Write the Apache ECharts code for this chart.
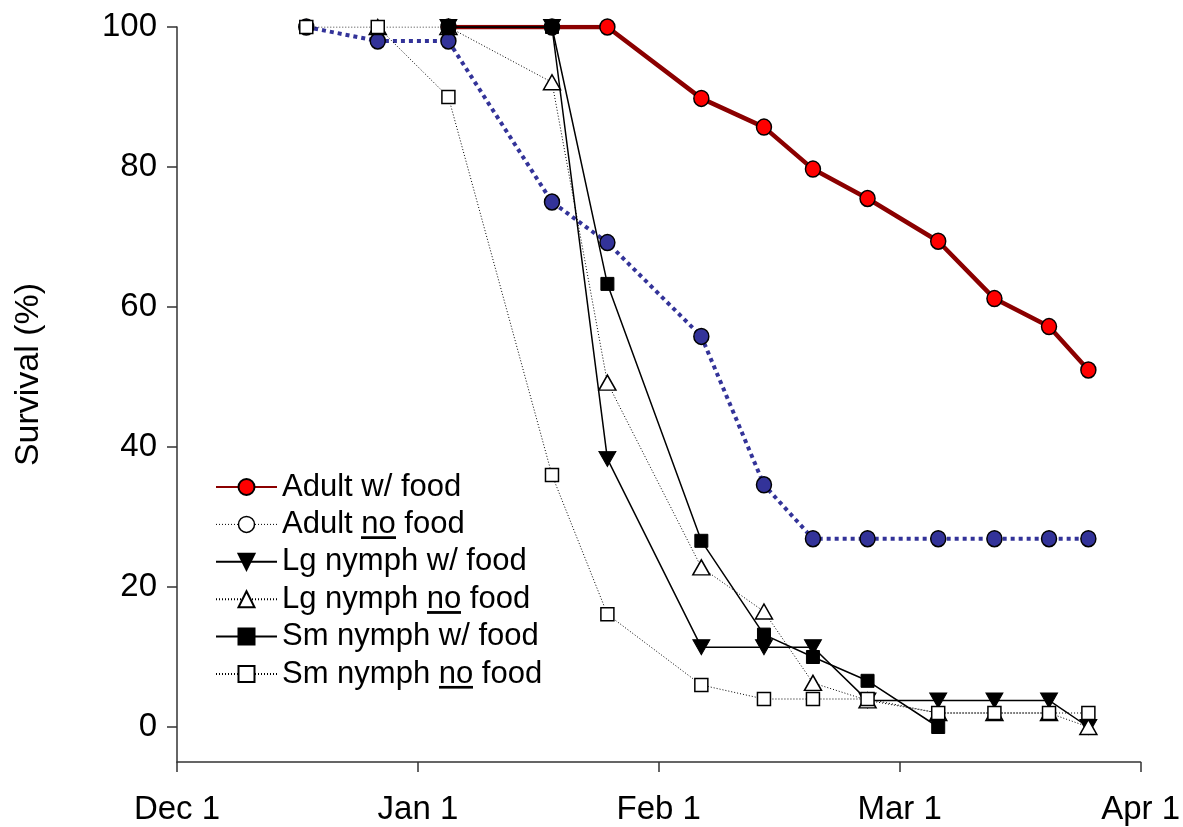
<!DOCTYPE html>
<html><head><meta charset="utf-8">
<script src="https://cdn.jsdelivr.net/npm/echarts@6/dist/echarts.min.js"></script>
<style>html,body{margin:0;padding:0;background:#fff}#c{width:1183px;height:827px}</style>
</head><body><div id="c"></div>
<script>
// x in days since Dec 1 (axis drawn with equal month spacing, 30 units per month)
const sampleDays = [16.1, 25.0, 33.8, 46.7, 53.6, 65.3, 73.1, 79.2, 86.0, 94.8, 101.8, 108.6, 113.5];
const monthLabels = ['Dec 1', 'Jan 1', 'Feb 1', 'Mar 1', 'Apr 1'];
const yTicks = [0, 20, 40, 60, 80, 100];
const seriesNames = ['Adult w/ food', 'Adult no food', 'Lg nymph w/ food', 'Lg nymph no food', 'Sm nymph w/ food', 'Sm nymph no food'];
const adultFood   = [null, null, 100, 100, 100, 89.8, 85.7, 79.7, 75.5, 69.4, 61.2, 57.2, 51.0];
const adultNoFood = [100, 98, 98, 75, 69.2, 55.8, 34.6, 26.9, 26.9, 26.9, 26.9, 26.9, 26.9];
const lgFood      = [null, null, 100, 100, 38.3, 11.4, 11.4, 11.4, 3.8, 3.8, 3.8, 3.8, 0];
const lgNoFood    = [null, 100, 100, 92.1, 49.2, 22.8, 16.5, 6.3, 3.8, 2, 2, 2, 0];
const smFood      = [null, null, 100, 100, 63.3, 26.6, 13.2, 10.0, 6.6, 0, null, null, null];
const smNoFood    = [100, 100, 90, 36, 16.1, 6, 4, 4, 4, 2, 2, 2, 2];

function pairs(arr) {
  const out = [];
  arr.forEach((v, i) => { if (v !== null) out.push([sampleDays[i], v]); });
  return out;
}
function underlineImg() {
  const c = document.createElement('canvas');
  c.width = 4; c.height = 34;
  const g = c.getContext('2d');
  g.fillStyle = '#000';
  g.fillRect(0, 30, 4, 3);
  return c;
}
const FONT = '"Liberation Sans", Arial, sans-serif';
const downTri = 'path://M0,0 L20,0 L10,18 Z';
const dotted = [1, 2];

const chart = echarts.init(document.getElementById('c'));
chart.setOption({
  animation: false,
  backgroundColor: '#fff',
  grid: { left: 177, right: 38, top: 27, bottom: 65, containLabel: false },
  xAxis: {
    type: 'value', min: 0, max: 120, interval: 30,
    splitLine: { show: false },
    axisLine: { onZero: false, lineStyle: { color: '#333', width: 1.5 } },
    axisTick: { length: 10, lineStyle: { color: '#333', width: 1.5 } },
    axisLabel: {
      margin: 31, fontSize: 33, color: '#000', fontFamily: FONT,
      formatter: v => monthLabels[Math.round(v / 30)]
    }
  },
  yAxis: {
    type: 'value', min: -5, max: 100,
    name: 'Survival (%)', nameLocation: 'middle', nameGap: 131,
    nameTextStyle: { fontSize: 34, color: '#000', fontFamily: FONT, padding: [0, 0, 0, 40] },
    splitLine: { show: false },
    axisLine: { show: true, onZero: false, lineStyle: { color: '#333', width: 1.5 } },
    axisTick: { show: true, length: 10, customValues: yTicks, lineStyle: { color: '#333', width: 1.5 } },
    axisLabel: { margin: 20, fontSize: 33, color: '#000', fontFamily: FONT, customValues: yTicks }
  },
  legend: {
    orient: 'vertical', left: 215, top: 470, padding: 0,
    itemWidth: 61, itemHeight: 20, itemGap: 3.4,
    textStyle: {
      fontSize: 31, color: '#000', fontFamily: FONT, lineHeight: 34,
      rich: { u: { fontSize: 31, fontFamily: FONT, color: '#000', lineHeight: 34, backgroundColor: { image: underlineImg() } } }
    },
    formatter: n => n.replace(' no ', ' {u|no} '),
    data: [
      { name: seriesNames[0], lineStyle: { width: 2 } },
      { name: seriesNames[1], itemStyle: { color: '#fff', borderColor: '#000', borderWidth: 1.5 }, lineStyle: { color: '#000', width: 1, type: dotted } },
      { name: seriesNames[2] },
      { name: seriesNames[3] },
      { name: seriesNames[4] },
      { name: seriesNames[5] }
    ]
  },
  series: [
    {
      name: seriesNames[0], type: 'line', data: pairs(adultFood),
      symbol: 'circle', symbolSize: [15, 16],
      lineStyle: { color: '#8B0000', width: 4.5 },
      itemStyle: { color: '#FF0000', borderColor: '#000', borderWidth: 1.5 }
    },
    {
      name: seriesNames[1], type: 'line', data: pairs(adultNoFood),
      symbol: 'circle', symbolSize: [15, 16],
      lineStyle: { color: '#333399', width: 4, type: [4, 4] },
      itemStyle: { color: '#333399', borderColor: '#000', borderWidth: 1.5 }
    },
    {
      name: seriesNames[2], type: 'line', data: pairs(lgFood),
      symbol: downTri, symbolSize: [17, 15], symbolKeepAspect: false,
      lineStyle: { color: '#000', width: 1.5 },
      itemStyle: { color: '#000', borderColor: '#000', borderWidth: 1 }
    },
    {
      name: seriesNames[3], type: 'line', data: pairs(lgNoFood),
      symbol: 'triangle', symbolSize: [17, 15],
      lineStyle: { color: '#000', width: 1, type: dotted },
      itemStyle: { color: '#fff', borderColor: '#000', borderWidth: 1.5 }
    },
    {
      name: seriesNames[4], type: 'line', data: pairs(smFood),
      symbol: 'rect', symbolSize: 13,
      lineStyle: { color: '#000', width: 1.5 },
      itemStyle: { color: '#000', borderColor: '#000', borderWidth: 1 }
    },
    {
      name: seriesNames[5], type: 'line', data: pairs(smNoFood),
      symbol: 'rect', symbolSize: 13,
      lineStyle: { color: '#000', width: 1, type: dotted },
      itemStyle: { color: '#fff', borderColor: '#000', borderWidth: 1.5 }
    }
  ]
});
</script></body></html>
